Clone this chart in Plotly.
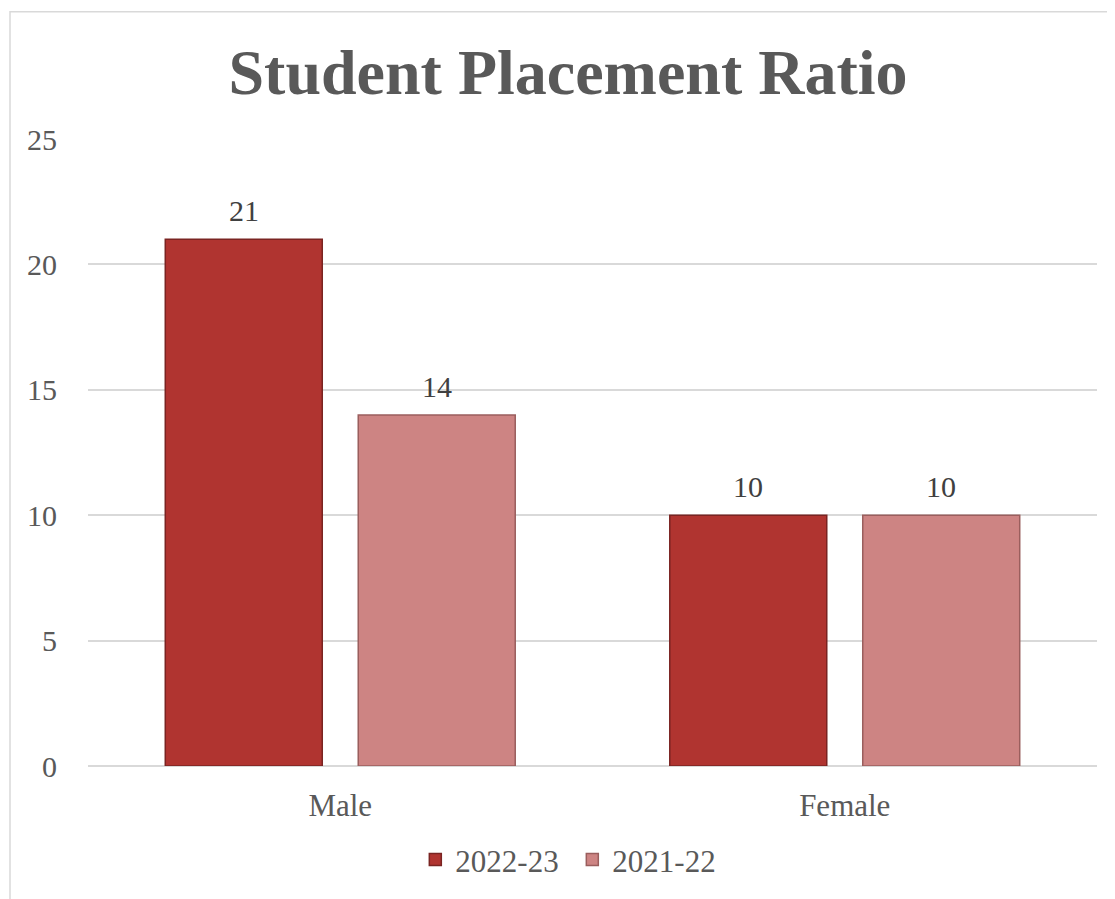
import plotly.graph_objects as go

categories = ["Male", "Female"]
series_names = ["2022-23", "2021-22"]
values_2022_23 = [21, 10]
values_2021_22 = [14, 10]

colors = ["#B03430", "#CD8483"]
line_colors = ["#7A2422", "#9A5E5D"]
font_family = "Liberation Serif, Times New Roman, serif"
grey = "#595959"

W, H = 1107, 891
ML, MR, MT, MB = 80, 18, 131, 125
PH = H - MT - MB
PW = W - ML - MR

fig = go.Figure()
all_vals = [values_2022_23, values_2021_22]
for name, vals, c, lc in zip(series_names, all_vals, colors, line_colors):
    fig.add_trace(go.Bar(
        x=categories, y=vals, name=name,
        marker=dict(color=c, line=dict(color=lc, width=1.5)),
    ))

# data labels above bars (offset of each series within its group)
offsets = [-96.5, 96.5]
annotations = []
for vals, dx in zip(all_vals, offsets):
    for cat, v in zip(categories, vals):
        annotations.append(dict(x=cat, y=v, xref="x", yref="y", text=str(v), showarrow=False,
                                xshift=dx, yshift=10, yanchor="bottom",
                                font=dict(family=font_family, size=30, color="#404040")))

fig.update_layout(
    width=W, height=H,
    paper_bgcolor="white", plot_bgcolor="white",
    margin=dict(l=ML, r=MR, t=MT, b=MB),
    barmode="group", bargap=0.235, bargroupgap=0.1865,
    title=dict(text="<b>Student Placement Ratio</b>", x=560 / W, xref="container", xanchor="center",
               y=1 - 64 / H, yref="container", yanchor="middle",
               font=dict(family=font_family, size=64, color=grey)),
    font=dict(family=font_family, size=30, color=grey),
    showlegend=True,
    legend=dict(orientation="h", x=0.48, xanchor="center", y=-95 / PH, yanchor="middle",
                font=dict(family=font_family, size=31, color=grey), itemwidth=30,
                entrywidth=112, entrywidthmode="pixels",
                traceorder="normal"),
    xaxis=dict(showgrid=False, showline=False, ticks="", ticklabelstandoff=18,
               tickfont=dict(family=font_family, size=31, color=grey)),
    yaxis=dict(range=[0, 25], dtick=5, showgrid=True, gridcolor="#D9D9D9", gridwidth=1.5,
               zeroline=True, zerolinecolor="#D9D9D9", zerolinewidth=1.5,
               showline=False, ticks="", ticklabelstandoff=30,
               tickfont=dict(family=font_family, size=30, color=grey)),
    annotations=annotations,
    shapes=[dict(type="rect", xref="paper", yref="paper",
                 x0=(2 - ML) / PW, x1=1.2, y0=-0.6, y1=(H - MB - 2) / PH,
                 line=dict(color="#D9D9D9", width=1.5), fillcolor="rgba(0,0,0,0)", layer="below")],
)

fig.write_html("out.html")
